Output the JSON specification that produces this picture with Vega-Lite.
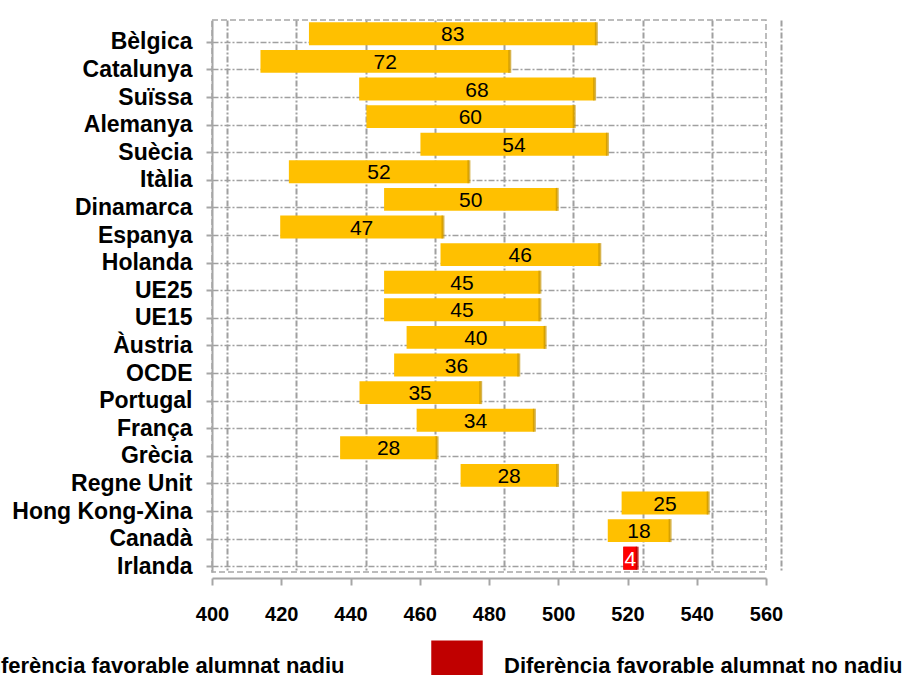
{
  "$schema": "https://vega.github.io/schema/vega-lite/v6.json",
  "width": 554,
  "height": 552,
  "autosize": {"type": "none"},
  "padding": {"left": 212, "top": 20, "right": 149, "bottom": 103},
  "background": "white",
  "config": {
    "font": "Liberation Sans",
    "view": {"stroke": "#A6A6A6", "strokeDash": [6, 3], "strokeWidth": 1.5}
  },
  "data": {
    "values": [
      {"pais": "Bèlgica", "min": 428, "max": 511, "dif": 83, "tipus": "Diferència favorable alumnat  nadiu"},
      {"pais": "Catalunya", "min": 414, "max": 486, "dif": 72, "tipus": "Diferència favorable alumnat  nadiu"},
      {"pais": "Suïssa", "min": 442.5, "max": 510.5, "dif": 68, "tipus": "Diferència favorable alumnat  nadiu"},
      {"pais": "Alemanya", "min": 444.6, "max": 504.6, "dif": 60, "tipus": "Diferència favorable alumnat  nadiu"},
      {"pais": "Suècia", "min": 460.2, "max": 514.2, "dif": 54, "tipus": "Diferència favorable alumnat  nadiu"},
      {"pais": "Itàlia", "min": 422.2, "max": 474.2, "dif": 52, "tipus": "Diferència favorable alumnat  nadiu"},
      {"pais": "Dinamarca", "min": 449.7, "max": 499.7, "dif": 50, "tipus": "Diferència favorable alumnat  nadiu"},
      {"pais": "Espanya", "min": 419.7, "max": 466.7, "dif": 47, "tipus": "Diferència favorable alumnat  nadiu"},
      {"pais": "Holanda", "min": 466, "max": 512, "dif": 46, "tipus": "Diferència favorable alumnat  nadiu"},
      {"pais": "UE25", "min": 449.7, "max": 494.7, "dif": 45, "tipus": "Diferència favorable alumnat  nadiu"},
      {"pais": "UE15", "min": 449.7, "max": 494.7, "dif": 45, "tipus": "Diferència favorable alumnat  nadiu"},
      {"pais": "Àustria", "min": 456.2, "max": 496.2, "dif": 40, "tipus": "Diferència favorable alumnat  nadiu"},
      {"pais": "OCDE", "min": 452.6, "max": 488.6, "dif": 36, "tipus": "Diferència favorable alumnat  nadiu"},
      {"pais": "Portugal", "min": 442.6, "max": 477.6, "dif": 35, "tipus": "Diferència favorable alumnat  nadiu"},
      {"pais": "França", "min": 459.1, "max": 493.1, "dif": 34, "tipus": "Diferència favorable alumnat  nadiu"},
      {"pais": "Grècia", "min": 437, "max": 465, "dif": 28, "tipus": "Diferència favorable alumnat  nadiu"},
      {"pais": "Regne Unit", "min": 471.8, "max": 499.8, "dif": 28, "tipus": "Diferència favorable alumnat  nadiu"},
      {"pais": "Hong Kong-Xina", "min": 518.3, "max": 543.3, "dif": 25, "tipus": "Diferència favorable alumnat  nadiu"},
      {"pais": "Canadà", "min": 514.3, "max": 532.3, "dif": 18, "tipus": "Diferència favorable alumnat  nadiu"},
      {"pais": "Irlanda", "min": 518.8, "max": 522.8, "dif": 4, "tipus": "Diferència favorable alumnat  no nadiu"}
    ]
  },
  "encoding": {
    "y": {
      "field": "pais",
      "type": "nominal",
      "sort": null,
      "scale": {"paddingInner": 0.17, "paddingOuter": 0.085},
      "axis": {
        "title": null,
        "labelFont": "Liberation Sans",
        "labelFontSize": 23,
        "labelFontWeight": "bold",
        "labelColor": "black",
        "labelLimit": 0,
        "labelPadding": 14,
        "tickOffset": 8,
        "tickSize": 6,
        "tickColor": "#A6A6A6",
        "tickWidth": 2,
        "domainColor": "#A6A6A6",
        "domainWidth": 2,
        "grid": true,
        "gridColor": "#A0A0A0",
        "gridDash": [6, 2, 2, 2],
        "gridWidth": 1.5
      }
    }
  },
  "resolve": {"axis": {"x": "independent"}},
  "layer": [
    {
      "mark": {"type": "bar"},
      "encoding": {
        "x": {
          "field": "min",
          "type": "quantitative",
          "scale": {"domain": [400, 560], "nice": false, "zero": false},
          "axis": {
            "title": null,
            "values": [400, 420, 440, 460, 480, 500, 520, 540, 560],
            "grid": false,
            "offset": 6,
            "labelFlush": false,
            "labelOverlap": false,
            "labelFont": "Liberation Sans",
            "labelFontSize": 20,
            "labelFontWeight": "bold",
            "labelColor": "black",
            "labelPadding": 19,
            "tickSize": 7,
            "tickWidth": 2,
            "tickColor": "#A6A6A6",
            "domainColor": "#A6A6A6",
            "domainWidth": 2
          }
        },
        "x2": {"field": "max"},
        "color": {
          "field": "tipus",
          "type": "nominal",
          "scale": {
            "domain": ["Diferència favorable alumnat  nadiu", "Diferència favorable alumnat  no nadiu"],
            "range": ["#FFC000", "#C00000"]
          },
          "legend": {
            "title": null,
            "orient": "none",
            "direction": "horizontal",
            "legendX": -306,
            "legendY": 620,
            "padding": 0,
            "symbolType": "square",
            "symbolSize": 2650,
            "symbolStrokeWidth": 0,
            "symbolOpacity": 1,
            "labelFont": "Liberation Sans",
            "labelFontSize": 22,
            "labelFontWeight": "bold",
            "labelColor": "black",
            "labelOffset": 21,
            "labelLimit": 0,
            "columnPadding": 80
          }
        }
      }
    },
    {
      "transform": [{"filter": "datum.pais === 'Irlanda'"}],
      "mark": {"type": "bar", "color": "#FF0000"},
      "encoding": {
        "x": {"field": "min", "type": "quantitative", "axis": null},
        "x2": {"field": "max"}
      }
    },
    {
      "mark": {"type": "tick", "orient": "vertical", "thickness": 3, "size": 23},
      "encoding": {
        "x": {
          "field": "max",
          "type": "quantitative",
          "axis": {
            "orient": "top",
            "title": null,
            "values": [400, 420, 440, 460, 480, 500, 520, 540, 560],
            "labels": false,
            "ticks": false,
            "domain": false,
            "grid": true,
            "tickOffset": 15,
            "gridColor": "#A0A0A0",
            "gridDash": [6, 2, 2, 2],
            "gridWidth": 2
          }
        },
        "color": {
          "condition": {"test": "datum.pais === 'Irlanda'", "value": "#B00000"},
          "value": "#C79400"
        }
      }
    },
    {
      "transform": [{"calculate": "(datum.min + datum.max) / 2", "as": "centre"}],
      "mark": {"type": "text", "fontSize": 21, "baseline": "middle", "align": "center", "dy": 1.5},
      "encoding": {
        "x": {"field": "centre", "type": "quantitative", "axis": null},
        "text": {"field": "dif", "type": "quantitative"},
        "color": {
          "condition": {"test": "datum.pais === 'Irlanda'", "value": "white"},
          "value": "black"
        },
        "fontWeight": {
          "condition": {"test": "datum.pais === 'Irlanda'", "value": "bold"},
          "value": "normal"
        }
      }
    }
  ]
}
